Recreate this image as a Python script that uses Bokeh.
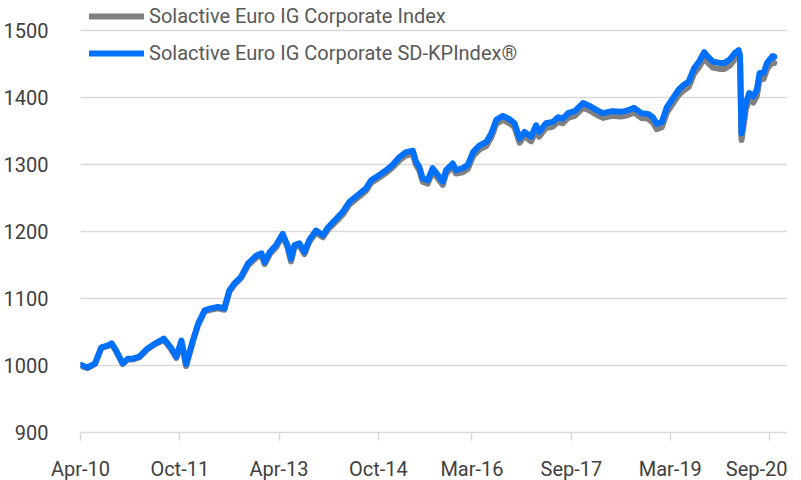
import pandas as pd
from bokeh.plotting import figure
from bokeh.models import Range1d, FixedTicker, Legend, LegendItem
from bokeh.embed import file_html
from bokeh.resources import INLINE

# ---------------- data ----------------
series_names = ["Solactive Euro IG Corporate Index",
                "Solactive Euro IG Corporate SD-KPIndex\u00ae"]

dates = [
    "2010-04-01", "2010-05-10", "2010-06-20", "2010-07-25", "2010-09-01", "2010-09-20",
    "2010-10-15", "2010-11-20", "2010-12-18", "2011-01-15", "2011-02-20", "2011-04-05",
    "2011-05-20", "2011-07-05", "2011-08-12", "2011-09-12", "2011-10-10", "2011-11-05",
    "2011-12-12", "2012-01-10", "2012-02-15", "2012-03-20", "2012-04-28", "2012-06-03",
    "2012-07-01", "2012-07-28", "2012-09-03", "2012-10-12", "2012-11-28", "2012-12-25",
    "2013-01-12", "2013-02-09", "2013-03-15", "2013-04-21", "2013-05-18", "2013-06-06",
    "2013-06-25", "2013-07-22", "2013-08-19", "2013-09-15", "2013-10-22", "2013-11-29",
    "2013-12-28", "2014-02-12", "2014-03-19", "2014-04-25", "2014-06-10", "2014-07-25",
    "2014-08-22", "2014-10-07", "2014-11-13", "2014-12-19", "2015-01-27", "2015-03-03",
    "2015-04-10", "2015-04-27", "2015-05-15", "2015-06-03", "2015-07-01", "2015-07-28",
    "2015-08-25", "2015-09-22", "2015-10-10", "2015-11-16", "2015-12-04", "2016-01-10",
    "2016-02-07", "2016-03-07", "2016-04-12", "2016-05-19", "2016-06-16", "2016-07-13",
    "2016-08-19", "2016-09-25", "2016-10-22", "2016-11-19", "2016-12-16", "2017-01-22",
    "2017-02-18", "2017-03-07", "2017-04-13", "2017-05-22", "2017-06-19", "2017-07-16",
    "2017-08-13", "2017-09-19", "2017-11-04", "2017-12-10", "2018-01-16", "2018-02-22",
    "2018-04-13", "2018-06-01", "2018-07-07", "2018-08-13", "2018-09-22", "2018-10-28",
    "2018-11-25", "2018-12-16", "2019-01-13", "2019-02-10", "2019-03-07", "2019-04-16",
    "2019-05-13", "2019-06-10", "2019-07-10", "2019-08-07", "2019-09-04", "2019-09-22",
    "2019-10-22", "2019-11-28", "2019-12-25", "2020-01-23", "2020-02-21", "2020-03-12",
    "2020-03-20", "2020-03-28", "2020-04-08", "2020-04-20", "2020-05-10", "2020-06-01",
    "2020-06-21", "2020-07-06", "2020-07-28", "2020-08-16", "2020-09-15", "2020-09-25",
]

ig_corporate = [
    1000, 996, 1002, 1026, 1029, 1032, 1021, 1002, 1009, 1009, 1012, 1024,
    1032, 1038, 1025, 1011, 1035, 999, 1035, 1060, 1080, 1083, 1085, 1083,
    1110, 1120, 1130, 1149, 1161, 1164, 1151, 1166, 1176, 1193, 1176, 1155,
    1176, 1179, 1166, 1184, 1198, 1191, 1203, 1215, 1225, 1240, 1250, 1260,
    1272, 1280, 1287, 1295, 1306, 1313, 1315, 1299, 1291, 1274, 1271, 1289,
    1279, 1269, 1286, 1296, 1286, 1288, 1293, 1312, 1322, 1327, 1340, 1360,
    1366, 1361, 1355, 1332, 1342, 1334, 1351, 1341, 1354, 1356, 1363, 1361,
    1369, 1372, 1384, 1380, 1374, 1369, 1372, 1371, 1373, 1377, 1369, 1368,
    1362, 1352, 1355, 1377, 1387, 1403, 1410, 1415, 1435, 1445, 1458, 1452,
    1444, 1442, 1442, 1447, 1457, 1461, 1453, 1336, 1356, 1381, 1397, 1392,
    1402, 1427, 1427, 1442, 1452, 1451,
]

sd_kp_index = [
    1001, 997, 1003, 1027, 1030, 1033, 1022, 1003, 1010, 1010, 1013, 1025,
    1033, 1040, 1027, 1013, 1037, 1002, 1037, 1062, 1082, 1085, 1087, 1085,
    1112, 1122, 1132, 1152, 1164, 1167, 1154, 1169, 1179, 1196, 1179, 1159,
    1179, 1182, 1169, 1187, 1201, 1194, 1206, 1219, 1229, 1244, 1254, 1264,
    1276, 1284, 1291, 1299, 1311, 1318, 1320, 1304, 1296, 1279, 1276, 1294,
    1284, 1274, 1291, 1301, 1291, 1294, 1299, 1318, 1328, 1333, 1346, 1366,
    1372, 1367, 1361, 1338, 1348, 1341, 1358, 1348, 1361, 1363, 1370, 1368,
    1376, 1379, 1391, 1387, 1381, 1376, 1379, 1378, 1380, 1384, 1376, 1375,
    1370, 1360, 1363, 1385, 1395, 1411, 1418, 1423, 1443, 1453, 1467, 1461,
    1453, 1451, 1451, 1456, 1466, 1470, 1462, 1346, 1365, 1390, 1406, 1401,
    1411, 1436, 1436, 1451, 1461, 1460,
]

x_tick_labels = ["Apr-10", "Oct-11", "Apr-13", "Oct-14", "Mar-16", "Sep-17", "Mar-19", "Sep-20"]
y_ticks = [900, 1000, 1100, 1200, 1300, 1400, 1500]

# ---------------- figure ----------------
FONT = "Roboto"
TICK_COLOR = "#404040"
GRID_COLOR = "#d9d9d9"

x = pd.to_datetime(dates)

p = figure(frame_width=707, frame_height=432, x_axis_type="datetime",
           output_backend="svg", toolbar_location=None,
           x_range=Range1d(pd.Timestamp("2010-04-01"), pd.Timestamp("2020-12-07")),
           y_range=Range1d(900, 1544.0),
           min_border_left=70, min_border_right=0, min_border_top=0, min_border_bottom=48)
p.outline_line_color = None
p.background_fill_color = "white"
p.border_fill_color = "white"

r_ig = p.line(x, ig_corporate, line_color="#808080", line_width=6,
              line_join="round", line_cap="round")
r_kp = p.line(x, sd_kp_index, line_color="#0070FF", line_width=6,
              line_join="round", line_cap="round")

# x axis
tick_dates = [pd.to_datetime(l, format="%b-%y") for l in x_tick_labels]
tick_ms = [float(t.value // 10**6) for t in tick_dates]
xa = p.xaxis[0]
xa.ticker = FixedTicker(ticks=tick_ms)
xa.major_label_overrides = {t: l for t, l in zip(tick_ms, x_tick_labels)}
xa.axis_line_color = GRID_COLOR
xa.axis_line_width = 1.5
xa.major_tick_line_color = GRID_COLOR
xa.major_tick_line_width = 1.5
xa.major_tick_in = 0
xa.major_tick_out = 8
xa.minor_tick_line_color = None
xa.major_label_standoff = 16
xa.major_label_text_font = FONT
xa.major_label_text_font_size = "20px"
xa.major_label_text_color = TICK_COLOR

# y axis
ya = p.yaxis[0]
ya.ticker = FixedTicker(ticks=y_ticks)
ya.axis_line_color = None
ya.major_tick_line_color = None
ya.minor_tick_line_color = None
ya.major_label_standoff = 26
ya.major_label_text_font = FONT
ya.major_label_text_font_size = "20px"
ya.major_label_text_color = TICK_COLOR

# grid
p.xgrid.grid_line_color = None
p.ygrid.ticker = FixedTicker(ticks=y_ticks)
p.ygrid.grid_line_color = GRID_COLOR
p.ygrid.grid_line_width = 1.5

# legend
legend = Legend(items=[LegendItem(label=series_names[0], renderers=[r_ig]),
                       LegendItem(label=series_names[1], renderers=[r_kp])],
                location=(9, 366), orientation="vertical",
                glyph_width=55, glyph_height=26, label_height=26,
                label_standoff=5, spacing=11, padding=0, margin=0,
                label_text_font=FONT, label_text_font_size="20px",
                label_text_color="#595959",
                background_fill_alpha=0, border_line_color=None)
p.add_layout(legend, "center")

open("out.html", "w").write(file_html(p, INLINE))
